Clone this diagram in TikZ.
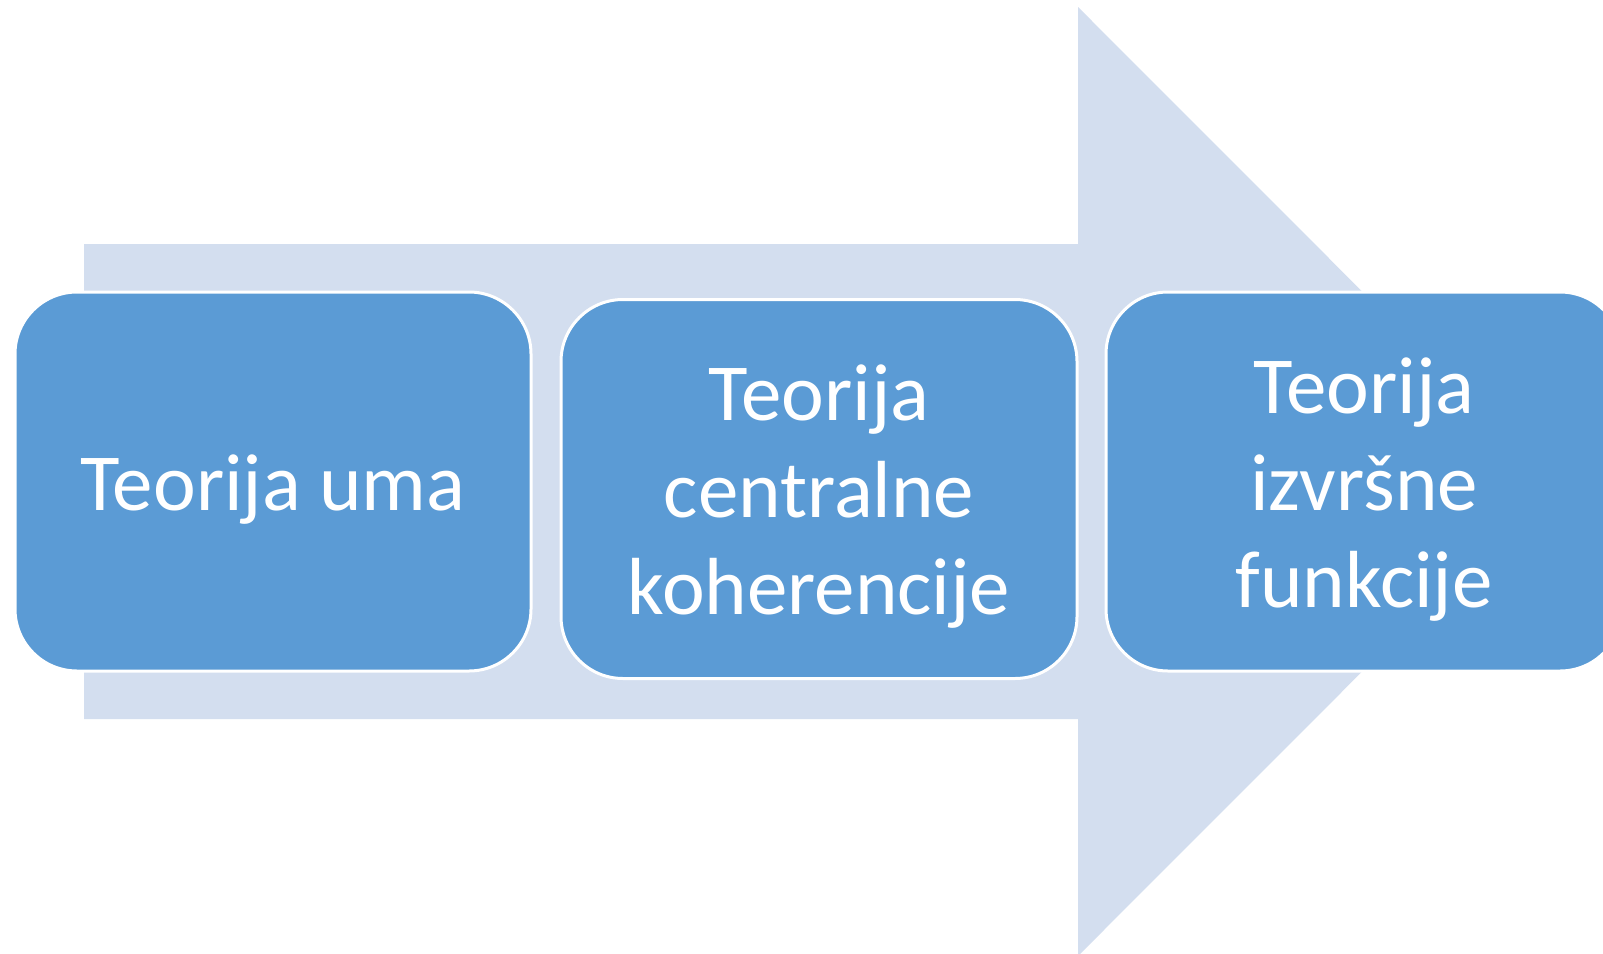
\documentclass[tikz,border=0pt]{standalone}
\usepackage{fontspec}
\setmainfont{Carlito}
\definecolor{boxblue}{HTML}{5B9BD5}
\definecolor{arrowblue}{HTML}{D3DEEF}
\tikzset{
  theory/.style={rectangle, rounded corners=62pt, fill=boxblue, draw=white,
    line width=3pt, minimum width=516pt, minimum height=379pt, inner sep=0pt},
  words/.style={text=white, align=center, inner sep=0pt, yshift=-8pt,
    font=\fontsize{81}{97}\selectfont}
}
\begin{document}
\begin{tikzpicture}[x=1pt,y=-1pt]
    \clip (0,0) rectangle (1603,953);
    \fill[arrowblue] (84,244) -- (1078,244) -- (1078,7) -- (1552,481.5)
      -- (1078,956) -- (1078,719) -- (84,719) -- cycle;
    \node[theory, label={[words]center:Teorija uma}] (T1) at (273,481.5) {};
    \node[theory, label={[words]center:Teorija\\centralne\\koherencije}] (T2) at (819,489) {};
    \node[theory, label={[words]center:Teorija\\izvršne\\funkcije}] (T3) at (1364,481.5) {};
  \end{tikzpicture}
\end{document}
